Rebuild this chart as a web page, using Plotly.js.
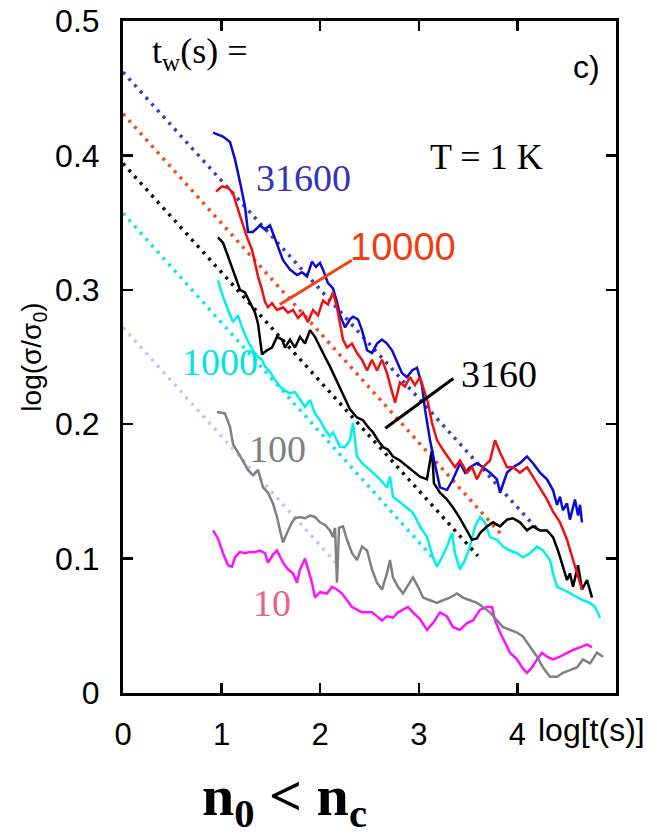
<!DOCTYPE html>
<html>
<head>
<meta charset="utf-8">
<script src="https://cdn.plot.ly/plotly-3.0.1.min.js"></script>
<style>html,body{margin:0;padding:0;background:#fff;}#chart{width:657px;height:835px;}</style>
</head>
<body>
<div id="chart"></div>
<script>
// ---- data ----
const xTickVals = [0, 1, 2, 3, 4];
const xTickText = ["0", "1", "2", "3", "4"];
const yTickVals = [0, 0.1, 0.2, 0.3, 0.4, 0.5];
const yTickText = ["0", "0.1", "0.2", "0.3", "0.4", "0.5"];

const x31600 = [0.913,1.014,1.085,1.136,1.187,1.237,1.268,1.318,1.389,1.440,1.491,1.521,1.572,1.623,1.694,1.765,1.815,1.866,1.917,1.957,1.998,2.028,2.079,2.130,2.170,2.201,2.252,2.302,2.333,2.383,2.424,2.475,2.525,2.576,2.627,2.677,2.728,2.779,2.830,2.880,2.931,2.982,3.032,3.063,3.114,3.164,3.215,3.286,3.347,3.418,3.469,3.519,3.590,3.651,3.722,3.793,3.824,3.895,3.955,4.026,4.097,4.158,4.229,4.300,4.361,4.402,4.432,4.462,4.503,4.533,4.564,4.584,4.615,4.635,4.655];
const y31600 = [0.417,0.414,0.410,0.397,0.380,0.362,0.343,0.343,0.348,0.345,0.348,0.342,0.332,0.322,0.315,0.311,0.313,0.310,0.321,0.317,0.320,0.315,0.305,0.301,0.291,0.281,0.272,0.278,0.280,0.278,0.270,0.255,0.253,0.260,0.263,0.260,0.255,0.246,0.238,0.235,0.240,0.242,0.229,0.211,0.188,0.170,0.153,0.151,0.159,0.171,0.164,0.168,0.171,0.168,0.164,0.159,0.149,0.164,0.168,0.171,0.176,0.171,0.164,0.159,0.151,0.140,0.146,0.136,0.141,0.129,0.138,0.144,0.132,0.140,0.127];

const x10000 = [0.943,1.004,1.065,1.116,1.156,1.207,1.258,1.308,1.339,1.369,1.410,1.440,1.471,1.511,1.562,1.623,1.673,1.724,1.775,1.826,1.876,1.927,1.978,2.028,2.079,2.130,2.170,2.201,2.231,2.272,2.323,2.373,2.424,2.475,2.525,2.576,2.627,2.677,2.728,2.759,2.809,2.860,2.911,2.961,3.012,3.063,3.093,3.134,3.185,3.245,3.316,3.367,3.418,3.489,3.540,3.590,3.651,3.722,3.773,3.824,3.895,3.955,4.026,4.097,4.158,4.229,4.300,4.361,4.432,4.503,4.554,4.604,4.655];
const y10000 = [0.373,0.377,0.376,0.372,0.362,0.350,0.339,0.330,0.320,0.310,0.300,0.291,0.287,0.290,0.285,0.287,0.283,0.285,0.279,0.283,0.276,0.285,0.281,0.292,0.289,0.298,0.287,0.275,0.263,0.257,0.260,0.253,0.248,0.240,0.248,0.240,0.248,0.238,0.223,0.216,0.231,0.228,0.235,0.229,0.235,0.224,0.216,0.201,0.188,0.181,0.173,0.168,0.173,0.164,0.168,0.159,0.168,0.173,0.188,0.179,0.168,0.168,0.164,0.168,0.161,0.153,0.144,0.135,0.127,0.114,0.101,0.089,0.077];

const x3160 = [0.963,1.014,1.055,1.105,1.156,1.187,1.237,1.288,1.339,1.369,1.389,1.410,1.460,1.511,1.562,1.613,1.643,1.694,1.744,1.795,1.846,1.897,1.947,1.998,2.049,2.099,2.150,2.201,2.252,2.302,2.373,2.434,2.485,2.535,2.586,2.637,2.688,2.738,2.809,2.860,2.911,2.961,3.012,3.083,3.134,3.154,3.215,3.286,3.347,3.418,3.489,3.540,3.590,3.621,3.692,3.753,3.824,3.895,3.955,4.026,4.097,4.158,4.229,4.300,4.361,4.412,4.462,4.503,4.533,4.564,4.615,4.655,4.706,4.757];
const y3160 = [0.339,0.335,0.327,0.317,0.307,0.300,0.298,0.290,0.283,0.275,0.263,0.252,0.255,0.257,0.265,0.263,0.257,0.263,0.257,0.265,0.260,0.270,0.265,0.257,0.250,0.243,0.235,0.227,0.218,0.211,0.205,0.203,0.198,0.194,0.188,0.183,0.181,0.176,0.173,0.170,0.167,0.164,0.161,0.159,0.181,0.156,0.149,0.144,0.138,0.130,0.121,0.114,0.115,0.119,0.124,0.127,0.124,0.129,0.130,0.127,0.121,0.124,0.121,0.121,0.116,0.106,0.094,0.084,0.089,0.079,0.095,0.077,0.084,0.071];

const x1000 = [0.963,1.014,1.065,1.116,1.166,1.207,1.258,1.318,1.369,1.410,1.440,1.491,1.542,1.592,1.643,1.694,1.744,1.795,1.846,1.897,1.947,1.998,2.049,2.099,2.130,2.170,2.201,2.252,2.302,2.333,2.353,2.373,2.424,2.475,2.535,2.606,2.677,2.708,2.738,2.809,2.880,2.941,3.012,3.083,3.144,3.185,3.235,3.286,3.337,3.367,3.418,3.469,3.519,3.570,3.621,3.671,3.722,3.793,3.854,3.925,3.996,4.057,4.128,4.199,4.260,4.331,4.361,4.402,4.462,4.533,4.604,4.665,4.736,4.787,4.838];
const y1000 = [0.307,0.295,0.285,0.276,0.281,0.272,0.263,0.255,0.250,0.248,0.243,0.239,0.233,0.228,0.225,0.223,0.224,0.218,0.213,0.218,0.208,0.203,0.196,0.191,0.194,0.188,0.183,0.183,0.188,0.201,0.186,0.176,0.171,0.168,0.164,0.159,0.153,0.161,0.146,0.142,0.138,0.134,0.124,0.116,0.101,0.094,0.101,0.109,0.119,0.104,0.092,0.099,0.109,0.124,0.131,0.127,0.116,0.114,0.109,0.106,0.104,0.101,0.104,0.109,0.106,0.099,0.089,0.079,0.077,0.074,0.071,0.069,0.067,0.064,0.056];

const x100 = [0.953,1.034,1.085,1.116,1.166,1.217,1.268,1.318,1.369,1.420,1.471,1.521,1.562,1.592,1.623,1.663,1.714,1.744,1.795,1.846,1.897,1.947,1.998,2.049,2.099,2.130,2.150,2.170,2.191,2.231,2.272,2.323,2.373,2.424,2.475,2.525,2.576,2.627,2.677,2.708,2.738,2.789,2.840,2.880,2.941,2.992,3.043,3.114,3.185,3.245,3.316,3.387,3.448,3.519,3.590,3.651,3.722,3.793,3.854,3.925,3.996,4.057,4.128,4.199,4.260,4.331,4.402,4.462,4.533,4.604,4.665,4.736,4.807,4.868];
const y100 = [0.209,0.208,0.198,0.185,0.179,0.172,0.166,0.162,0.166,0.153,0.149,0.141,0.131,0.121,0.112,0.119,0.127,0.130,0.131,0.130,0.132,0.131,0.127,0.125,0.121,0.116,0.123,0.082,0.123,0.124,0.114,0.104,0.099,0.109,0.106,0.092,0.082,0.077,0.089,0.099,0.086,0.079,0.074,0.079,0.086,0.079,0.071,0.069,0.067,0.069,0.071,0.074,0.071,0.069,0.067,0.064,0.060,0.054,0.049,0.047,0.045,0.042,0.034,0.027,0.019,0.012,0.012,0.015,0.017,0.019,0.025,0.022,0.030,0.027];

const x10 = [0.913,0.963,1.014,1.065,1.105,1.136,1.187,1.237,1.288,1.339,1.389,1.440,1.471,1.521,1.562,1.592,1.623,1.673,1.724,1.765,1.795,1.846,1.876,1.917,1.947,1.998,2.069,2.120,2.170,2.221,2.272,2.323,2.373,2.424,2.475,2.525,2.576,2.627,2.677,2.738,2.789,2.840,2.890,2.941,3.012,3.083,3.144,3.215,3.286,3.347,3.418,3.489,3.550,3.621,3.692,3.742,3.773,3.824,3.874,3.925,3.996,4.047,4.097,4.148,4.199,4.250,4.300,4.361,4.432,4.503,4.564,4.635,4.706,4.757];
const y10 = [0.121,0.115,0.104,0.095,0.094,0.101,0.105,0.104,0.105,0.105,0.106,0.104,0.097,0.103,0.106,0.101,0.097,0.092,0.089,0.082,0.092,0.100,0.092,0.082,0.071,0.075,0.074,0.079,0.077,0.074,0.069,0.064,0.062,0.060,0.060,0.060,0.057,0.054,0.057,0.056,0.060,0.062,0.064,0.060,0.055,0.047,0.052,0.060,0.057,0.049,0.047,0.052,0.054,0.062,0.064,0.064,0.054,0.045,0.037,0.030,0.025,0.019,0.015,0.019,0.025,0.030,0.027,0.025,0.027,0.030,0.032,0.034,0.036,0.034];

// straight dotted fits: [start, end]
const fitX31600 = [0, 4.2],  fitY31600 = [0.462, 0.122];
const fitX10000 = [0, 3.85], fitY10000 = [0.431, 0.117];
const fitX3160  = [0, 3.6],  fitY3160  = [0.394, 0.102];
const fitX1000  = [0, 3.15], fitY1000  = [0.357, 0.100];
const fitX100   = [0, 2.17], fitY100   = [0.272, 0.096];

// labels
const lbl = {
  s31600: {x: 1.83, y: 0.383, t: "31600"},
  s10000: {x: 2.84, y: 0.332, t: "10000"},
  s3160:  {x: 3.81, y: 0.237, t: "3160"},
  s1000:  {x: 0.98, y: 0.246, t: "1000"},
  s100:   {x: 1.57, y: 0.1815, t: "100"},
  s10:    {x: 1.51, y: 0.067, t: "10"}
};
const pointer10000 = {x0: 1.59, y0: 0.289, x1: 2.32, y1: 0.322};
const pointer3160  = {x0: 2.66, y0: 0.197, x1: 3.35, y1: 0.234};

// ---- traces ----
const serif = "Liberation Serif, Times New Roman, serif";
const sans = "Liberation Sans, Arial, sans-serif";
function fit(x, y, color) {
  return {x: x, y: y, mode: "lines", type: "scatter", hoverinfo: "skip",
    line: {color: color, width: 3.5, dash: "3px,5.5px"}};
}
function curve(x, y, color, w) {
  return {x: x, y: y, mode: "lines", type: "scatter",
    line: {color: color, width: w || 2.5}};
}
const traces = [
  fit(fitX100, fitY100, "#c6c6f0"),
  fit(fitX1000, fitY1000, "#10e4ea"),
  fit(fitX3160, fitY3160, "#111111"),
  fit(fitX10000, fitY10000, "#ec4e1e"),
  fit(fitX31600, fitY31600, "#3c3cc8"),
  curve(x10, y10, "#ff10ff"),
  curve(x100, y100, "#808080"),
  curve(x1000, y1000, "#00f0f0"),
  curve(x3160, y3160, "#000000"),
  curve(x31600, y31600, "#0a0ad8"),
  curve(x10000, y10000, "#f01010")
];

function ann(o, color, font, size) {
  return {x: o.x, y: o.y, xref: "x", yref: "y", text: o.t, showarrow: false,
    xanchor: "center", yanchor: "middle", font: {family: font, size: size, color: color}};
}

const layout = {
  width: 657, height: 835,
  margin: {l: 123, r: 41, t: 21, b: 142},
  paper_bgcolor: "#ffffff", plot_bgcolor: "#ffffff",
  showlegend: false,
  xaxis: {range: [0, 5], tickvals: xTickVals, ticktext: xTickText,
    showline: true, linecolor: "#000", linewidth: 3, mirror: "allticks",
    ticks: "inside", ticklen: 10, tickwidth: 2.5, tickcolor: "#000",
    showgrid: false, zeroline: false, ticklabelstandoff: 12,
    tickfont: {family: sans, size: 31, color: "#000"}},
  yaxis: {range: [0, 0.5], tickvals: yTickVals, ticktext: yTickText,
    showline: true, linecolor: "#000", linewidth: 3, mirror: "allticks",
    ticks: "inside", ticklen: 10, tickwidth: 2.5, tickcolor: "#000",
    showgrid: false, zeroline: false, ticklabelstandoff: 14,
    tickfont: {family: sans, size: 32, color: "#000"},
    title: {text: "log(σ/σ<sub>0</sub>)", font: {family: sans, size: 28, color: "#000"}, standoff: 6}},
  shapes: [
    {type: "line", xref: "x", yref: "y", x0: pointer10000.x0, y0: pointer10000.y0, x1: pointer10000.x1, y1: pointer10000.y1,
      line: {color: "#f04414", width: 3}},
    {type: "line", xref: "x", yref: "y", x0: pointer3160.x0, y0: pointer3160.y0, x1: pointer3160.x1, y1: pointer3160.y1,
      line: {color: "#000", width: 3}}
  ],
  annotations: [
    ann(lbl.s31600, "#3434b4", serif, 38),
    ann(lbl.s10000, "#f03c10", "Liberation Sans Narrow, Arial Narrow, sans-serif", 38),
    ann(lbl.s3160, "#000000", serif, 38),
    ann(lbl.s1000, "#00e4e4", serif, 38),
    ann(lbl.s100, "#808080", serif, 38),
    ann(lbl.s10, "#e4648a", serif, 38),
    {x: 3.69, y: 0.399, xref: "x", yref: "y", text: "T = 1 K", showarrow: false,
      xanchor: "center", yanchor: "middle", font: {family: serif, size: 36, color: "#000"}},
    {x: 0.27, y: 0.476, xref: "x", yref: "y", text: "t<sub>w</sub>(s) =", showarrow: false,
      xanchor: "left", yanchor: "middle", font: {family: serif, size: 36, color: "#000"}},
    {x: 4.70, y: 0.466, xref: "x", yref: "y", text: "c)", showarrow: false,
      xanchor: "center", yanchor: "middle", font: {family: sans, size: 32, color: "#000"}},
    {x: 0.950, y: -0.055, xref: "paper", yref: "paper", text: "log[t(s)]", showarrow: false,
      xanchor: "center", yanchor: "middle", font: {family: sans, size: 32, color: "#000"}},
    {x: 0.3276, y: -0.158, xref: "paper", yref: "paper", text: "<b>n<sub>0</sub> &lt; n<sub>c</sub></b>", showarrow: false,
      xanchor: "center", yanchor: "middle", font: {family: serif, size: 58, color: "#000"}}
  ]
};

Plotly.newPlot("chart", traces, layout, {staticPlot: true, displayModeBar: false});
</script>
</body>
</html>
